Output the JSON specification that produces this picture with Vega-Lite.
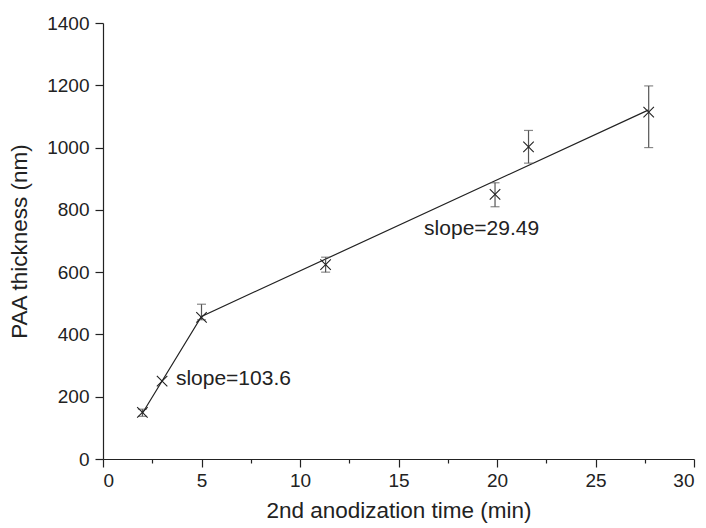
{
  "$schema": "https://vega.github.io/schema/vega-lite/v6.json",
  "width": 591,
  "height": 436,
  "autosize": "none",
  "padding": {"left": 103, "top": 23, "right": 12, "bottom": 69},
  "background": "white",
  "config": {
    "view": {"stroke": null},
    "font": "Liberation Sans",
    "axis": {
      "domainColor": "#222",
      "tickColor": "#222",
      "labelColor": "#222",
      "titleColor": "#222",
      "labelFont": "Liberation Sans",
      "titleFont": "Liberation Sans",
      "labelFontSize": 19,
      "titleFontSize": 22.5,
      "titleFontWeight": "normal",
      "grid": false,
      "domainWidth": 1.2,
      "tickWidth": 1.2,
      "labelOverlap": false,
      "format": "d"
    }
  },
  "datasets": {
    "pts": [
      {"t": 2, "thk": 150},
      {"t": 3, "thk": 250},
      {"t": 5, "thk": 455},
      {"t": 11.3, "thk": 624},
      {"t": 19.9, "thk": 850},
      {"t": 21.6, "thk": 1002},
      {"t": 27.7, "thk": 1114}
    ],
    "err": [
      {"t": 2, "lo": 137, "hi": 160},
      {"t": 5, "lo": 447, "hi": 497},
      {"t": 11.3, "lo": 600, "hi": 648},
      {"t": 19.9, "lo": 810, "hi": 887},
      {"t": 21.6, "lo": 950, "hi": 1055},
      {"t": 27.7, "lo": 1000, "hi": 1198}
    ],
    "fit": [
      {"t": 2, "thk": 147},
      {"t": 5, "thk": 458},
      {"t": 27.7, "thk": 1121}
    ],
    "notes": [
      {"t": 3.7, "thk": 257, "label": "slope=103.6"},
      {"t": 16.3, "thk": 737, "label": "slope=29.49"}
    ]
  },
  "layer": [
    {
      "data": {"name": "fit"},
      "mark": {"type": "line", "color": "#222", "strokeWidth": 1.2},
      "encoding": {
        "x": {
          "field": "t", "type": "quantitative",
          "scale": {"domain": [0, 30], "nice": false, "zero": false},
          "axis": {
            "title": "2nd anodization time (min)",
            "format": "d",
            "values": [0, 2.5, 5, 7.5, 10, 12.5, 15, 17.5, 20, 22.5, 25, 27.5, 30],
            "labelExpr": "datum.value % 5 === 0 ? datum.label : ''",
            "tickSize": {"condition": {"test": "datum.value % 5 === 0", "value": 8}, "value": 4},
            "labelPadding": 4,
            "titlePadding": 9
          }
        },
        "y": {
          "field": "thk", "type": "quantitative",
          "scale": {"domain": [0, 1400], "nice": false},
          "axis": {
            "title": "PAA thickness (nm)",
            "format": "d",
            "values": [0, 100, 200, 300, 400, 500, 600, 700, 800, 900, 1000, 1100, 1200, 1300, 1400],
            "labelExpr": "datum.value % 200 === 0 ? datum.label : ''",
            "tickSize": {"condition": {"test": "datum.value % 200 === 0", "value": 8}, "value": 4},
            "labelPadding": 6,
            "titlePadding": 15
          }
        }
      }
    },
    {
      "data": {"name": "err"},
      "mark": {"type": "rule", "color": "#555", "strokeWidth": 1.2},
      "encoding": {
        "x": {"field": "t", "type": "quantitative"},
        "y": {"field": "lo", "type": "quantitative"},
        "y2": {"field": "hi"}
      }
    },
    {
      "data": {"name": "err"},
      "mark": {"type": "tick", "orient": "horizontal", "color": "#555", "size": 9, "thickness": 1.2},
      "encoding": {
        "x": {"field": "t", "type": "quantitative"},
        "y": {"field": "hi", "type": "quantitative"}
      }
    },
    {
      "data": {"name": "err"},
      "mark": {"type": "tick", "orient": "horizontal", "color": "#555", "size": 9, "thickness": 1.2},
      "encoding": {
        "x": {"field": "t", "type": "quantitative"},
        "y": {"field": "lo", "type": "quantitative"}
      }
    },
    {
      "data": {"name": "pts"},
      "mark": {"type": "point", "shape": "M-1,-1L1,1M-1,1L1,-1", "filled": false, "stroke": "#222", "strokeWidth": 1.1, "size": 110, "opacity": 1},
      "encoding": {
        "x": {"field": "t", "type": "quantitative"},
        "y": {"field": "thk", "type": "quantitative"}
      }
    },
    {
      "data": {"name": "notes"},
      "mark": {"type": "text", "align": "left", "baseline": "middle", "fontSize": 21, "color": "#222", "font": "Liberation Sans"},
      "encoding": {
        "x": {"field": "t", "type": "quantitative"},
        "y": {"field": "thk", "type": "quantitative"},
        "text": {"field": "label"}
      }
    }
  ]
}
